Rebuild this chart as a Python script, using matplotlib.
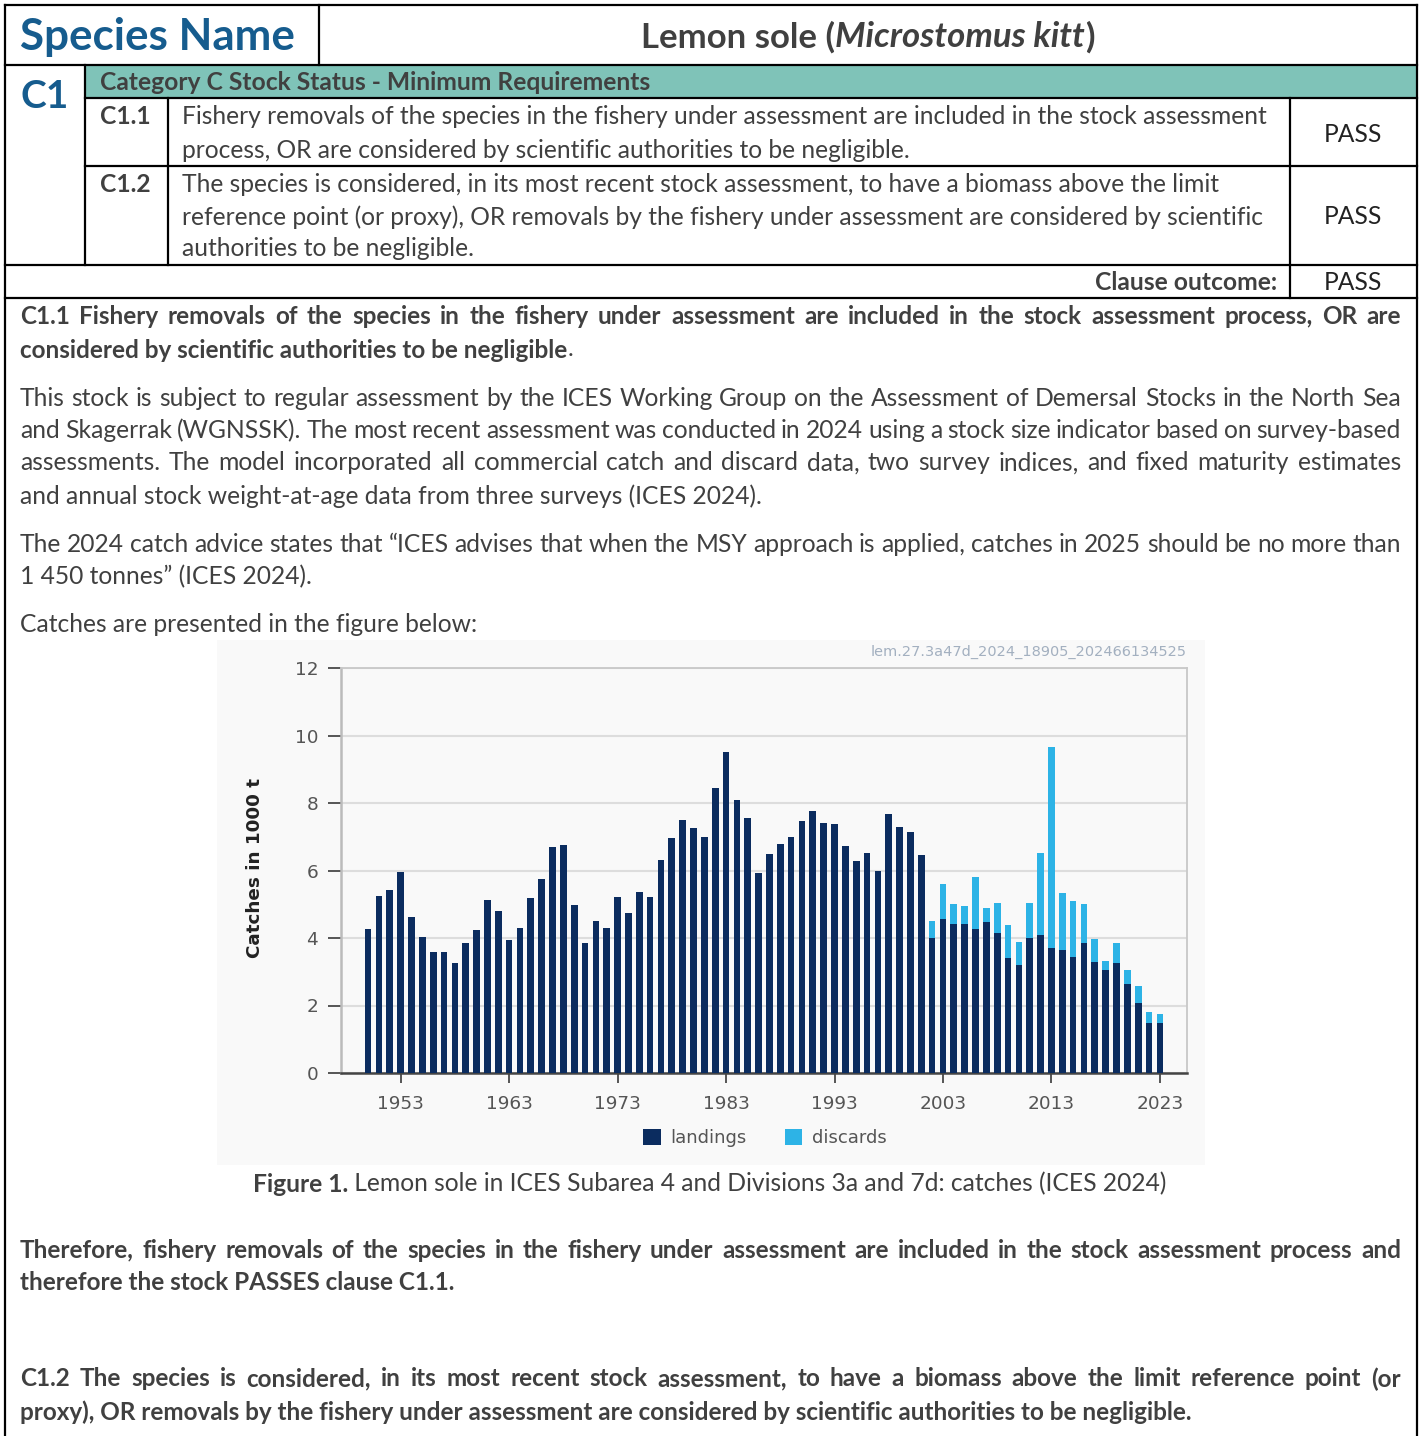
import matplotlib
matplotlib.use("Agg")
import matplotlib.pyplot as plt
from matplotlib.patches import Rectangle
from matplotlib.lines import Line2D

# ---------------- data ----------------
years = list(range(1950, 2024))
landings = [4.26, 5.25, 5.43, 5.95, 4.61, 4.04, 3.58, 3.58, 3.26, 3.86,
            4.23, 5.13, 4.81, 3.93, 4.31, 5.20, 5.75, 6.69, 6.75, 4.99,
            3.84, 4.50, 4.31, 5.21, 4.74, 5.37, 5.21, 6.31, 6.95, 7.51,
            7.27, 6.99, 8.44, 9.50, 8.10, 7.55, 5.93, 6.49, 6.78, 7.00,
            7.47, 7.77, 7.41, 7.38, 6.74, 6.27, 6.52, 5.99, 7.68, 7.30,
            7.14, 6.45, 4.01, 4.57, 4.41, 4.41, 4.28, 4.46, 4.16, 3.41,
            3.21, 4.01, 4.08, 3.70, 3.63, 3.44, 3.84, 3.28, 3.04, 3.26,
            2.63, 2.08, 1.47, 1.47]
discards = [0.0] * 52 + [0.50, 1.02, 0.61, 0.53, 1.53, 0.42, 0.87, 0.98,
                         0.67, 1.02, 2.44, 5.95, 1.69, 1.65, 1.16, 0.68,
                         0.29, 0.60, 0.41, 0.50, 0.35, 0.27]
yticks = [0, 2, 4, 6, 8, 10, 12]
xticks = [1953, 1963, 1973, 1983, 1993, 2003, 2013, 2023]
series_names = ["landings", "discards"]

W, H = 1421, 1436
fig = plt.figure(figsize=(W / 100, H / 100), dpi=100, facecolor="white")
ax0 = fig.add_axes([0, 0, 1, 1])
ax0.set_xlim(0, W)
ax0.set_ylim(H, 0)
ax0.axis("off")
R = fig.canvas.get_renderer()

BODY = ["Lato", "DejaVu Sans"]
TXT = "#404040"
BLUE = "#165C8E"
TEAL = "#7FC3B8"


def width_of(t):
    return t.get_window_extent(renderer=R).width


def fit(s, target, **kw):
    t = ax0.text(0, 0, s, fontsize=10, **kw)
    w = width_of(t)
    t.remove()
    return 10 * target / w


def put(x, y, s, fs, ha="left", **kw):
    kw.setdefault("family", BODY)
    kw.setdefault("color", TXT)
    return ax0.text(x, y, s, fontsize=fs, ha=ha, va="center", **kw)


def justify(line, x0, x1, y, fs, **kw):
    kw.setdefault("family", BODY)
    kw.setdefault("color", TXT)
    words = line.split(" ")
    ts = [ax0.text(0, y, w, fontsize=fs, va="center", ha="left", **kw) for w in words]
    ws = [width_of(t) for t in ts]
    gap = (x1 - x0 - sum(ws)) / (len(ws) - 1)
    x = x0
    for t, w in zip(ts, ws):
        t.set_x(x)
        x += w + gap


def runs(x, y, parts, fs, ha="left"):
    """parts: list of (text, kw). Places consecutive runs."""
    ts = []
    for s, kw in parts:
        kw = dict(kw)
        kw.setdefault("family", BODY)
        kw.setdefault("color", TXT)
        ts.append(ax0.text(0, y, s, fontsize=fs, va="center", ha="left", **kw))
    ws = [width_of(t) for t in ts]
    tot = sum(ws)
    if ha == "center":
        x = x - tot / 2
    for t, w in zip(ts, ws):
        t.set_x(x)
        x += w


def hline(y, x0, x1, lw=1.6, c="black"):
    ax0.add_line(Line2D([x0, x1], [y, y], lw=lw, color=c, solid_capstyle="projecting"))


def vline(x, y0, y1, lw=1.6, c="black"):
    ax0.add_line(Line2D([x, x], [y0, y1], lw=lw, color=c, solid_capstyle="projecting"))


# ---------------- table ----------------
ax0.add_patch(Rectangle((86, 66), 1330, 32, facecolor=TEAL, edgecolor="none"))
hline(5, 5, 1417)
hline(65, 5, 1417)
hline(98, 85, 1417)
hline(166, 85, 1417)
hline(265, 5, 1417)
hline(298, 5, 1417)
vline(5, 5, H + 5)
vline(1417, 5, H + 5)
vline(319, 5, 65)
vline(85, 65, 265)
vline(168, 98, 265)
vline(1290, 98, 298)

fs = fit("Species Name", 276, family=BODY, weight="bold")
put(20, 37, "Species Name", fs, weight="bold", color=BLUE)
fs = fit("C1", 48, family=BODY, weight="bold")
put(20, 97, "C1", fs, weight="bold", color=BLUE)

fs_t = fit("Lemon sole (Microstomus kitt)", 471, family=BODY, weight="bold")
runs(868, 37, [("Lemon sole (", dict(weight="bold")),
               ("Microstomus kitt", dict(weight="bold", style="italic")),
               (")", dict(weight="bold"))], fs_t, ha="center")

fs_c = fit("Category C Stock Status - Minimum Requirements", 550, family=BODY, weight="bold")
put(100, 83, "Category C Stock Status - Minimum Requirements", fs_c, weight="bold")

fs_tab = fit("Fishery removals of the species in the fishery under assessment are included in the stock assessment",
             1089, family=BODY)
put(100, 117, "C1.1", fs_tab, weight="bold")
put(100, 184, "C1.2", fs_tab, weight="bold")
put(182, 117, "Fishery removals of the species in the fishery under assessment are included in the stock assessment", fs_tab)
put(182, 150, "process, OR are considered by scientific authorities to be negligible.", fs_tab)
put(182, 184, "The species is considered, in its most recent stock assessment, to have a biomass above the limit", fs_tab)
put(182, 217, "reference point (or proxy), OR removals by the fishery under assessment are considered by scientific", fs_tab)
put(182, 249, "authorities to be negligible.", fs_tab)
for yy in (134, 217, 283):
    put(1353, yy, "PASS", fs_tab, ha="center", color="#222222")
put(1277, 283, "Clause outcome:", fs_tab, ha="right", weight="bold")

# ---------------- body text ----------------
fs_b = fit("therefore the stock PASSES clause C1.1.", 435, family=BODY, weight="bold")
fs_n = fit("Catches are presented in the figure below:", 460, family=BODY)
L, RM = 20, 1401

justify("C1.1 Fishery removals of the species in the fishery under assessment are included in the stock assessment process, OR are",
        L, RM, 317, fs_b, weight="bold")
runs(L, 350, [("considered by scientific authorities to be negligible", dict(weight="bold")), (".", {})], fs_b)

justify("This stock is subject to regular assessment by the ICES Working Group on the Assessment of Demersal Stocks in the North Sea",
        L, RM, 398, fs_n)
justify("and Skagerrak (WGNSSK). The most recent assessment was conducted in 2024 using a stock size indicator based on survey-based",
        L, RM, 431, fs_n)
justify("assessments. The model incorporated all commercial catch and discard data, two survey indices, and fixed maturity estimates",
        L, RM, 463, fs_n)
put(L, 496, "and annual stock weight-at-age data from three surveys (ICES 2024).", fs_n)

justify("The 2024 catch advice states that \u201cICES advises that when the MSY approach is applied, catches in 2025 should be no more than",
        L, RM, 544, fs_n)
put(L, 577, "1 450 tonnes\u201d (ICES 2024).", fs_n)
put(L, 625, "Catches are presented in the figure below:", fs_n)

runs(710, 1184, [("Figure 1.", dict(weight="bold")),
                 (" Lemon sole in ICES Subarea 4 and Divisions 3a and 7d: catches (ICES 2024)", {})],
     fs_n, ha="center")

justify("Therefore, fishery removals of the species in the fishery under assessment are included in the stock assessment process and",
        L, RM, 1250, fs_b, weight="bold")
put(L, 1283, "therefore the stock PASSES clause C1.1.", fs_b, weight="bold")
justify("C1.2 The species is considered, in its most recent stock assessment, to have a biomass above the limit reference point (or",
        L, RM, 1379, fs_b, weight="bold")
put(L, 1412, "proxy), OR removals by the fishery under assessment are considered by scientific authorities to be negligible.",
    fs_b, weight="bold")

# ---------------- chart ----------------
ax0.add_patch(Rectangle((217, 640), 988, 525, facecolor="#F9F9F9", edgecolor="none", zorder=0))

axc = fig.add_axes([341 / W, 1 - 1073 / H, (1187 - 341) / W, (1073 - 668) / H])
axc.set_facecolor("none")
axc.bar(years, landings, width=0.62, color="#0B2C5F", zorder=3, label=series_names[0])
axc.bar(years, discards, bottom=landings, width=0.62, color="#2DB3E6", zorder=3, label=series_names[1])
axc.set_xlim(1947.5, 2025.5)
axc.set_ylim(0, 12)
axc.set_yticks(yticks)
axc.set_xticks(xticks)
axc.set_yticklabels([str(v) for v in yticks])
axc.set_xticklabels([str(v) for v in xticks])
axc.grid(axis="y", color="#DDDDDD", lw=1.5, zorder=0)
axc.set_axisbelow(True)
for side, col, lw in (("left", "#BBBBBB", 1.8), ("top", "#C8C8C8", 1.3),
                      ("right", "#C8C8C8", 1.3), ("bottom", "#444444", 1.8)):
    axc.spines[side].set_color(col)
    axc.spines[side].set_linewidth(lw)
axc.tick_params(axis="y", length=9.4, width=1.4, color="#555555", pad=7,
                labelsize=13.3, labelcolor="#555555")
axc.tick_params(axis="x", length=7, width=1.4, color="#555555", pad=9,
                labelsize=13.3, labelcolor="#555555")
for lab in axc.get_xticklabels() + axc.get_yticklabels():
    lab.set_family("DejaVu Sans")

fs_yl = fit("Catches in 1000 t", 181, family="DejaVu Sans", weight="bold")
ax0.text(255, 868, "Catches in 1000 t", fontsize=fs_yl, family="DejaVu Sans", weight="bold",
         color="#222222", rotation=90, ha="center", va="center")

fs_wm = fit("lem.27.3a47d_2024_18905_202466134525", 314, family="DejaVu Sans")
ax0.text(1187, 652, "lem.27.3a47d_2024_18905_202466134525", fontsize=fs_wm, family="DejaVu Sans",
         color="#A3B0C0", ha="right", va="center")

leg = fig.legend(loc="center", bbox_to_anchor=(765 / W, 1 - 1138 / H), ncol=2, frameon=False,
                 prop={"family": "DejaVu Sans", "size": 13}, handlelength=0.95, handleheight=0.95,
                 handletextpad=0.55, columnspacing=2.1, borderpad=0)
for t in leg.get_texts():
    t.set_color("#555555")

fig.savefig("out.png", dpi=100, facecolor="white")
